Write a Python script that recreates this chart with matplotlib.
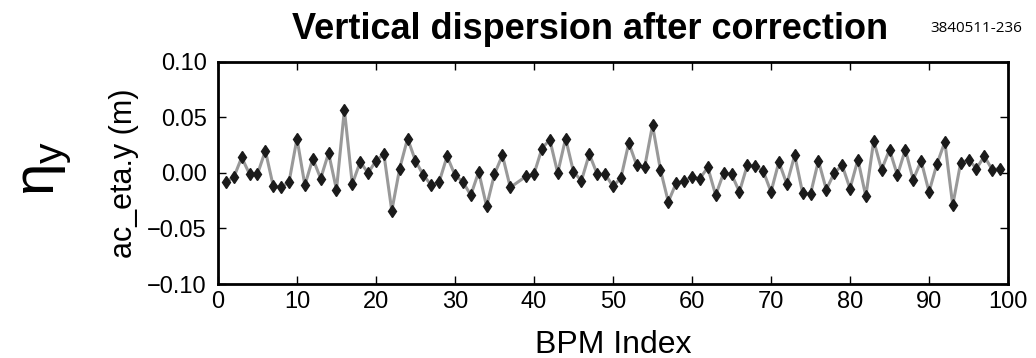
import matplotlib
matplotlib.use("Agg")
import matplotlib.pyplot as plt
import numpy as np

plt.rcParams['font.family'] = ['Liberation Sans', 'DejaVu Sans']
plt.rcParams['mathtext.default'] = 'regular'

# BPM indices (index 38 has no reading)
bpm = [1, 2, 3, 4, 5, 6, 7, 8, 9, 10, 11, 12, 13, 14, 15, 16, 17, 18, 19, 20,
       21, 22, 23, 24, 25, 26, 27, 28, 29, 30, 31, 32, 33, 34, 35, 36, 37, 39, 40,
       41, 42, 43, 44, 45, 46, 47, 48, 49, 50, 51, 52, 53, 54, 55, 56, 57, 58, 59, 60,
       61, 62, 63, 64, 65, 66, 67, 68, 69, 70, 71, 72, 73, 74, 75, 76, 77, 78, 79, 80,
       81, 82, 83, 84, 85, 86, 87, 88, 89, 90, 91, 92, 93, 94, 95, 96, 97, 98, 99]
eta_y = [-0.008, -0.004, 0.014, -0.001, -0.001, 0.020, -0.012, -0.013, -0.008, 0.031,
         -0.011, 0.013, -0.005, 0.018, -0.015, 0.057, -0.010, 0.010, 0.000, 0.011,
         0.017, -0.034, 0.004, 0.031, 0.011, -0.002, -0.011, -0.008, 0.015, -0.002,
         -0.008, -0.020, 0.001, -0.030, -0.001, 0.016, -0.013, -0.003, -0.001,
         0.022, 0.030, 0.000, 0.031, 0.001, -0.007, 0.017, -0.001, -0.001, -0.012,
         -0.0045, 0.027, 0.007, 0.005, 0.043, 0.003, -0.026, -0.009, -0.007, -0.004,
         -0.005, 0.005, -0.020, 0.000, -0.001, -0.017, 0.007, 0.006, 0.002, -0.017,
         0.010, -0.010, 0.016, -0.018, -0.019, 0.011, -0.015, 0.000, 0.007, -0.014,
         0.012, -0.021, 0.029, 0.003, 0.021, -0.002, 0.021, -0.006, 0.011, -0.017,
         0.008, 0.028, -0.029, 0.009, 0.012, 0.004, 0.015, 0.003, 0.004]

xticks = [0, 10, 20, 30, 40, 50, 60, 70, 80, 90, 100]
yticks = [-0.10, -0.05, 0.00, 0.05, 0.10]

fig = plt.figure(figsize=(10.36, 3.58), dpi=100)
ax = fig.add_axes([0.2104, 0.2067, 0.7626, 0.6203])

ax.plot(bpm, eta_y, color='#999999', lw=2.2, marker='d', ms=6.5,
        mfc='#1a1a1a', mec='#1a1a1a', zorder=3)

ax.set_xlim(0, 100)
ax.set_ylim(-0.10, 0.10)
ax.set_xticks(xticks)
ax.set_yticks(yticks)
ax.set_yticklabels(['%.2f' % v if v >= 0 else '\u2212%.2f' % abs(v) for v in yticks])
ax.tick_params(direction='in', length=6, width=1, top=True, right=True,
               labelsize=17)
ax.tick_params(axis='y', pad=8)
ax.tick_params(axis='x', pad=5)
for s in ax.spines.values():
    s.set_linewidth(2)

ax.set_xlabel('BPM Index', fontsize=23, labelpad=12)
ax.set_ylabel('ac_eta.y (m)', fontsize=22, labelpad=6)

fig.text(0.57, 0.918, 'Vertical dispersion after correction', fontsize=26,
         fontweight='bold', ha='center', va='center')
fig.text(0.942, 0.92, '3840511-236', fontsize=11, family=['Open Sans', 'DejaVu Sans'],
         ha='center', va='center')
fig.text(0.044, 0.53, r'$\eta_y$', fontsize=42, rotation=90, ha='center', va='center')

fig.savefig('out.png', dpi=100)
